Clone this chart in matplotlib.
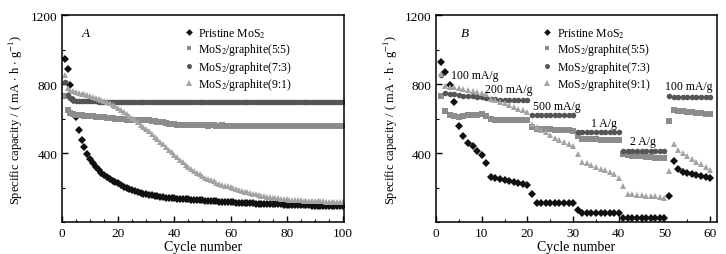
import numpy as np
import matplotlib
matplotlib.use('Agg')
import matplotlib.pyplot as plt
from matplotlib.ticker import MultipleLocator

plt.rcParams['font.family'] = ['Liberation Serif', 'DejaVu Serif']
plt.rcParams['mathtext.fontset'] = 'stix'

# Panel A: cycling at 100 mA/g, cycles 1..100
cycles_a = np.arange(1, 101)
pristine_a = [948, 890, 795, 708, 606, 533, 476, 434, 395, 365,
              340, 318, 300, 285, 272, 260, 250, 240, 232, 224,
              214, 205, 197, 190, 184, 178, 173, 168, 164, 160,
              157, 154, 151, 148, 146, 144, 142, 140, 138, 137,
              136, 135, 134, 133, 132, 130, 129, 128, 126, 125,
              123, 122, 121, 120, 119, 118, 117, 118, 116, 115,
              114, 113, 112, 111, 110, 109, 108, 108, 107, 106,
              105, 105, 104, 104, 103, 103, 102, 102, 101, 100,
              99, 99, 98, 98, 97, 97, 96, 96, 95, 95,
              94, 94, 93, 93, 92, 92, 91, 91, 90, 90]
g55_a = [730, 648, 630, 625, 622, 620, 618, 617, 615, 614,
         612, 611, 610, 608, 607, 605, 604, 602, 600, 598,
         597, 596, 594, 593, 592, 591, 592, 593, 594, 592,
         590, 588, 585, 582, 580, 577, 574, 571, 568, 566,
         564, 563, 562, 561, 560, 560, 560, 560, 560, 560,
         560, 559, 560, 560, 559, 559, 560, 559, 559, 559,
         558, 559, 559, 558, 558, 559, 558, 558, 558, 558,
         558, 557, 558, 558, 557, 557, 558, 557, 557, 557,
         557, 556, 557, 557, 556, 556, 557, 556, 556, 556,
         556, 555, 556, 556, 555, 555, 556, 555, 555, 555]
g73_a = [810, 735, 718, 708, 704, 702, 701, 700, 700, 699,
         699, 699, 698, 698, 698, 698, 698, 698, 697, 697,
         697, 697, 697, 697, 697, 697, 697, 696, 696, 696,
         696, 696, 696, 696, 696, 696, 696, 696, 696, 696,
         696, 695, 695, 695, 695, 695, 695, 695, 695, 695,
         695, 695, 695, 695, 695, 695, 695, 695, 695, 695,
         695, 694, 694, 694, 694, 694, 694, 694, 694, 694,
         694, 694, 694, 694, 694, 694, 694, 694, 694, 694,
         694, 693, 693, 693, 693, 693, 693, 693, 693, 693,
         693, 693, 693, 693, 693, 693, 693, 693, 693, 693]
g91_a = [850, 775, 765, 760, 755, 750, 745, 740, 735, 730,
         725, 720, 714, 708, 702, 695, 688, 680, 670, 660,
         650, 640, 628, 615, 603, 590, 577, 564, 551, 538,
         525, 510, 495, 480, 465, 450, 435, 420, 405, 390,
         375, 360, 346, 333, 320, 308, 297, 286, 276, 267,
         258, 250, 242, 235, 228, 222, 216, 211, 206, 201,
         196, 191, 186, 181, 176, 172, 168, 164, 160, 156,
         153, 150, 147, 144, 141, 139, 137, 135, 133, 131,
         129, 128, 127, 126, 125, 124, 123, 122, 121, 120,
         120, 119, 119, 118, 118, 118, 117, 117, 117, 116]

# Panel B: rate capability, cycles 1..60
cycles_b = np.arange(1, 61)
pristine_b = [929, 867, 793, 693, 557, 499, 461, 441, 412, 389,
              345, 261, 257, 252, 246, 240, 233, 226, 220, 215,
              165, 112, 111, 110, 110, 110, 110, 110, 111, 112,
              68, 52, 52, 52, 52, 52, 52, 52, 52, 52,
              23, 23, 23, 23, 23, 23, 23, 23, 23, 23,
              149, 355, 307, 292, 285, 280, 275, 268, 262, 255]
g55_b = [730, 644, 620, 612, 610, 615, 620, 622, 622, 625,
         616, 597, 592, 590, 590, 590, 590, 590, 590, 592,
         549, 540, 539, 538, 537, 536, 535, 534, 532, 530,
         500, 482, 481, 480, 479, 478, 477, 476, 475, 474,
         394, 386, 384, 382, 380, 378, 376, 374, 372, 369,
         587, 649, 646, 643, 640, 637, 634, 631, 628, 625]
g73_b = [850, 750, 745, 740, 735, 732, 730, 728, 726, 724,
         720, 712, 711, 710, 710, 710, 710, 709, 709, 709,
         620, 618, 618, 618, 618, 618, 618, 618, 618, 618,
         522, 520, 520, 520, 520, 520, 520, 520, 520, 520,
         414, 412, 412, 412, 412, 412, 412, 412, 412, 412,
         728, 727, 726, 726, 726, 725, 725, 725, 725, 725]
g91_b = [860, 786, 785, 780, 775, 770, 765, 760, 755, 750,
         745, 712, 705, 697, 688, 678, 668, 658, 648, 637,
         570, 550, 535, 520, 505, 490, 478, 465, 452, 440,
         395, 350, 340, 330, 320, 310, 300, 290, 278, 258,
         210, 165, 160, 157, 154, 152, 150, 148, 145, 142,
         297, 452, 420, 400, 380, 365, 350, 335, 320, 303]

labels = ['Pristine MoS$_2$', 'MoS$_2$/graphite(5:5)',
          'MoS$_2$/graphite(7:3)', 'MoS$_2$/graphite(9:1)']
styles = [('D', '#111111', 3.8), ('s', '#8c8c8c', 3.8),
          ('o', '#555555', 4.0), ('^', '#a3a3a3', 4.3)]

rate_labels = ['100 mA/g', '200 mA/g', '500 mA/g', '1 A/g', '2 A/g', '100 mA/g']
rate_x = [3.3, 10.7, 21.2, 33.9, 42.5, 50.1]
rate_y = [852, 771, 672, 574, 470, 788]

fig = plt.figure(figsize=(7.26, 2.55), dpi=100)
ax_a = fig.add_axes([0.0854, 0.1255, 0.3884, 0.8115])
ax_b = fig.add_axes([0.6006, 0.1255, 0.3870, 0.8115])


def draw(ax, x, series, xmax, xmajor, leg_x):
    for ys, lab, (m, c, ms) in zip(series, labels, styles):
        ax.plot(x, ys, linestyle='none', marker=m, color=c, markersize=ms,
                markeredgewidth=0, label=lab)
    ax.set_xlim(0, xmax)
    ax.set_ylim(0, 1200)
    ax.xaxis.set_major_locator(MultipleLocator(xmajor))
    ax.xaxis.set_minor_locator(MultipleLocator(5))
    ax.yaxis.set_major_locator(MultipleLocator(400))
    ax.yaxis.set_minor_locator(MultipleLocator(200))
    ax.tick_params(which='both', direction='in', labelsize=9.5)
    ax.tick_params(which='major', length=4, width=1)
    ax.tick_params(which='minor', length=2, width=0.8)
    ax.set_yticks([400, 800, 1200])
    for s in ax.spines.values():
        s.set_linewidth(1.1)
    ax.set_xlabel('Cycle number', fontsize=10, labelpad=1)
    ax.set_ylabel('Specific capacity / ( mA $\\cdot$ h $\\cdot$ g$^{-1}$)',
                  fontsize=9)
    ax.yaxis.set_label_coords(-0.13, 0.5)
    ax.legend(loc='upper left', bbox_to_anchor=(leg_x, 0.985), frameon=False,
              fontsize=8.5, handlelength=1.0, handletextpad=0.3,
              labelspacing=0.12, markerscale=0.9, borderaxespad=0.3)


draw(ax_a, cycles_a, [pristine_a, g55_a, g73_a, g91_a], 100.4, 20, 0.40)
draw(ax_b, cycles_b, [pristine_b, g55_b, g73_b, g91_b], 61.5, 10, 0.345)

ax_a.text(0.07, 0.90, 'A', transform=ax_a.transAxes, fontsize=9.5, style='italic')
ax_b.text(0.09, 0.90, 'B', transform=ax_b.transAxes, fontsize=9.5, style='italic')

for lab, x, y in zip(rate_labels, rate_x, rate_y):
    ax_b.text(x, y, lab, fontsize=8.5, ha='left', va='center')

fig.savefig('out.png', dpi=100)
